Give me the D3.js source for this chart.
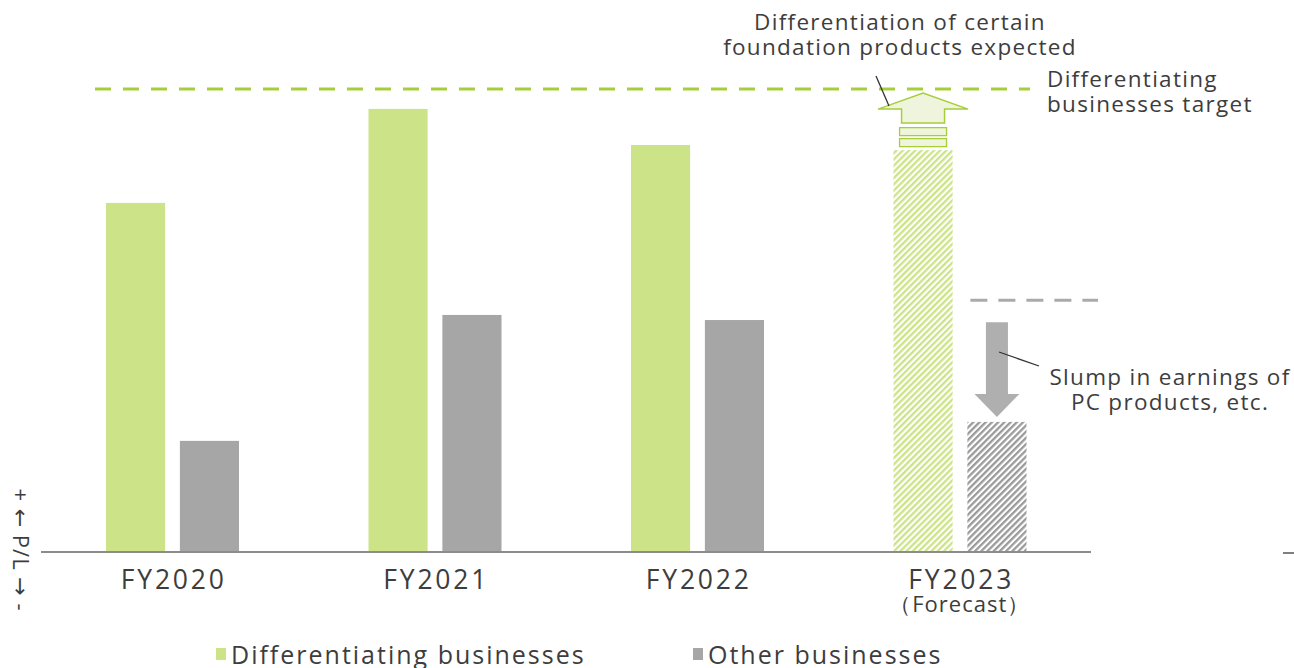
<!DOCTYPE html>
<html>
<head>
<meta charset="utf-8">
<script src="https://cdn.jsdelivr.net/npm/d3@7/dist/d3.min.js"></script>
<style>
  body { margin: 0; background: #fff; }
  svg text { font-family: "Open Sans", "DejaVu Sans", sans-serif; fill: #3d3d3d; }
</style>
</head>
<body>
<div id="chart"></div>
<script>
// Data (relative P/L index, target line = 100)
const years = ['FY2020', 'FY2021', 'FY2022', 'FY2023'];
const yearSub = ['', '', '', '（Forecast）'];
const differentiating = [75.4, 95.7, 87.9, 86.8];
const other = [24.0, 51.2, 50.1, 28.1];
const forecast = [false, false, false, true];
const diffTarget = 100;
const otherPrev = 54.4;
const legendLabels = ['Differentiating businesses', 'Other businesses'];

const width = 1294, height = 668;
const green = '#cde388', gray = '#a6a6a6';
const greenDark = '#a6cd3a';

const svg = d3.select('#chart').append('svg')
    .attr('width', width)
    .attr('height', height);

// hatch patterns for the forecast bars
const defs = svg.append('defs');
function hatch(id, color) {
    const p = defs.append('pattern')
        .attr('id', id)
        .attr('patternUnits', 'userSpaceOnUse')
        .attr('width', 4.4)
        .attr('height', 4.4)
        .attr('patternTransform', 'rotate(45)');
    p.append('rect').attr('width', 2.3).attr('height', 4.4).attr('fill', color);
}
hatch('hatchGreen', green);
hatch('hatchGray', '#9a9a9a');

// scales
const baseY = 552;
const x0 = d3.scaleBand().domain(years).range([41, 1091]);
const x1 = d3.scaleBand().domain(['diff', 'other']).range([65, 198]).paddingInner(0.2);
const y = d3.scaleLinear().domain([0, 100]).range([baseY, 89]);

const rows = years.map((yr, i) => ({ yr, i, diff: differentiating[i], other: other[i], fc: forecast[i] }));

// bars
const g = svg.append('g');
rows.forEach(d => {
    g.append('rect')
        .attr('x', x0(d.yr) + x1('diff'))
        .attr('y', y(d.diff))
        .attr('width', x1.bandwidth())
        .attr('height', y(0) - y(d.diff))
        .attr('fill', d.fc ? 'url(#hatchGreen)' : green);
    g.append('rect')
        .attr('x', x0(d.yr) + x1('other'))
        .attr('y', y(d.other))
        .attr('width', x1.bandwidth())
        .attr('height', y(0) - y(d.other))
        .attr('fill', d.fc ? 'url(#hatchGray)' : gray);
});

// baseline
svg.append('line')
    .attr('x1', 41).attr('x2', 1091)
    .attr('y1', y(0)).attr('y2', y(0))
    .attr('stroke', '#8c8c8c').attr('stroke-width', 2);
svg.append('line')
    .attr('x1', 1283).attr('x2', 1294)
    .attr('y1', y(0) + 1).attr('y2', y(0) + 1)
    .attr('stroke', '#555').attr('stroke-width', 1.5);

// category labels
rows.forEach(d => {
    const cx = x0(d.yr) + x0.bandwidth() / 2;
    svg.append('text')
        .attr('x', cx + 1.5).attr('y', 589)
        .attr('text-anchor', 'middle')
        .attr('font-size', 26.5)
        .attr('letter-spacing', 2.8)
        .text(d.yr);
    if (yearSub[d.i]) {
        svg.append('text')
            .attr('x', cx).attr('y', 612)
            .attr('text-anchor', 'middle')
            .attr('font-size', 22)
            .attr('letter-spacing', 1)
            .text(yearSub[d.i]);
    }
});

// target dashed lines
svg.append('line')
    .attr('x1', 95).attr('x2', 1030)
    .attr('y1', y(diffTarget)).attr('y2', y(diffTarget))
    .attr('stroke', greenDark).attr('stroke-width', 3)
    .attr('stroke-dasharray', '16,12');
const fc = rows[3];
const otherX = x0(fc.yr) + x1('other');
svg.append('line')
    .attr('x1', otherX + 3).attr('x2', 1098)
    .attr('y1', y(otherPrev)).attr('y2', y(otherPrev))
    .attr('stroke', '#aaa').attr('stroke-width', 3)
    .attr('stroke-dasharray', '17,11');

// up arrow above the forecast green bar
const gx = x0(fc.yr) + x1('diff') + x1.bandwidth() / 2;
const barTop = y(fc.diff);
svg.append('rect').attr('x', gx - 23.5).attr('y', barTop - 11.5).attr('width', 47).attr('height', 8)
    .attr('fill', '#eef5dc').attr('stroke', greenDark).attr('stroke-width', 1.3);
svg.append('rect').attr('x', gx - 23.5).attr('y', barTop - 22.5).attr('width', 47).attr('height', 8)
    .attr('fill', '#eef5dc').attr('stroke', greenDark).attr('stroke-width', 1.3);
const upArrow = [[-21.5, barTop - 27], [-21.5, barTop - 41], [-45, barTop - 41], [0, y(diffTarget) + 4],
                 [45, barTop - 41], [21.5, barTop - 41], [21.5, barTop - 27]];
svg.append('path')
    .attr('d', d3.line()(upArrow.map(p => [gx + p[0], p[1]])) + 'Z')
    .attr('fill', '#eef5dc').attr('stroke', greenDark).attr('stroke-width', 1.5);

// down arrow above the forecast gray bar
const ox = otherX + x1.bandwidth() / 2;
const aTop = y(otherPrev) + 22, aEnd = y(fc.other) - 5;
const downArrow = [[-11, aTop], [11, aTop], [11, aEnd - 23], [22.5, aEnd - 23], [0, aEnd],
                   [-22.5, aEnd - 23], [-11, aEnd - 23]];
svg.append('path')
    .attr('d', d3.line()(downArrow.map(p => [ox + p[0], p[1]])) + 'Z')
    .attr('fill', '#afafaf');

// leader lines
svg.append('line').attr('x1', 876).attr('y1', 76).attr('x2', 889).attr('y2', 106)
    .attr('stroke', '#333').attr('stroke-width', 1.3);
svg.append('line').attr('x1', 999).attr('y1', 352).attr('x2', 1039).attr('y2', 366)
    .attr('stroke', '#333').attr('stroke-width', 1.3);

// annotations
function multi(xp, yp, lines, anchor, size) {
    const t = svg.append('text')
        .attr('x', xp).attr('y', yp)
        .attr('text-anchor', anchor)
        .attr('font-size', size)
        .attr('letter-spacing', 1.3);
    lines.forEach((l, k) => t.append('tspan').attr('x', xp).attr('dy', k ? 25 : 0).text(l));
}
multi(900, 30, ['Differentiation of certain', 'foundation products expected'], 'middle', 22.5);
multi(1047, 87, ['Differentiating', 'businesses target'], 'start', 22.5);
multi(1170, 385, ['Slump in earnings of', 'PC products, etc.'], 'middle', 22.5);

// y-axis label
svg.append('text')
    .attr('transform', 'translate(13,550) rotate(90)')
    .attr('text-anchor', 'middle')
    .attr('font-size', 22)
    .attr('letter-spacing', 1)
    .text('+ ← P/L → -');

// legend
const legend = svg.append('g');
[[216, green], [693, gray]].forEach((p, k) => {
    legend.append('rect').attr('x', p[0]).attr('y', 648).attr('width', 10).attr('height', 12).attr('fill', p[1]);
    legend.append('text').attr('x', p[0] + 15).attr('y', 664)
        .attr('font-size', 25).attr('letter-spacing', 2)
        .text(legendLabels[k]);
});
</script>
</body>
</html>
